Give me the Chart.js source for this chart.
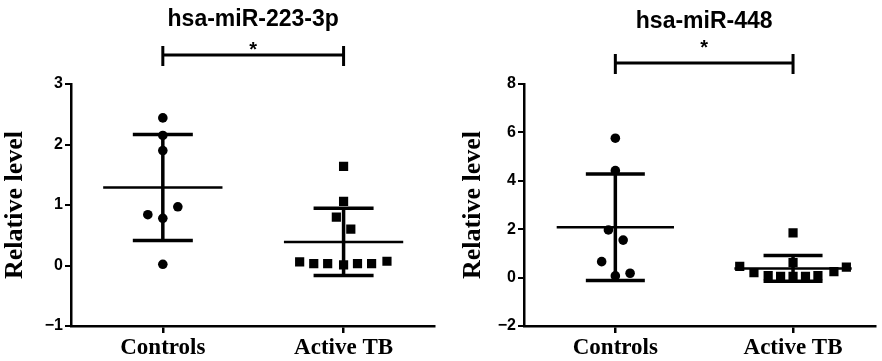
<!DOCTYPE html>
<html>
<head>
<meta charset="utf-8">
<script src="https://cdn.jsdelivr.net/npm/chart.js@4.4.1/dist/chart.umd.min.js"></script>
<style>
  html, body { margin: 0; padding: 0; background: #fff; }
  #wrap { position: relative; width: 882px; height: 361px; overflow: hidden; }
  .panel { position: absolute; top: 0; width: 441px; height: 361px; }
  canvas { display: block; }
</style>
</head>
<body>
<div id="wrap">
  <div class="panel" style="left:0"><canvas id="c1" width="441" height="361"></canvas></div>
  <div class="panel" style="left:441px"><canvas id="c2" width="441" height="361"></canvas></div>
</div>
<script>
// ---------------- DATA ----------------
const categories = ['Controls', 'Active TB'];
const titles = ['hsa-miR-223-3p', 'hsa-miR-448'];
const significance = ['*', '*'];

// hsa-miR-223-3p
const m223ControlsValues = [2.44, 2.15, 1.90, 0.97, 0.84, 0.78, 0.02];
const m223ControlsJitter = [0, 0, 0, 0.083, -0.083, 0, 0];
const m223ActiveValues = [1.64, 1.06, 0.80, 0.60, 0.06, 0.03, 0.03, 0.01, 0.03, 0.03, 0.07];
const m223ActiveJitter = [0, 0, -0.04, 0.04, -0.243, -0.165, -0.088, 0, 0.077, 0.155, 0.24];
const m223Mean = [1.29, 0.39];
const m223SD = [0.875, 0.555];
const m223Ticks = { min: -1, max: 3, step: 1 };

// hsa-miR-448
const m448ControlsValues = [5.76, 4.42, 1.97, 1.55, 0.66, 0.07, 0.18];
const m448ControlsJitter = [0, 0, -0.039, 0.044, -0.077, 0, 0.083];
const m448ActiveValues = [1.85, 0.62, 0.46, 0.20, 0.08, 0.05, 0.05, 0.05, 0.08, 0.25, 0.43];
const m448ActiveJitter = [0, 0, -0.30, -0.22, -0.14, -0.07, 0, 0.07, 0.14, 0.23, 0.30];
const m448Mean = [2.08, 0.38];
const m448SD = [2.2, 0.53];
const m448Ticks = { min: -2, max: 8, step: 2 };

// ---------------- STYLE ----------------
const SANS = 'Arial, "Liberation Sans", Helvetica, sans-serif';
const SERIF = '"Times New Roman", "Liberation Serif", Times, serif';
const MEAN_HALF = 0.33;
const CAP_HALF = 0.166;

function groupPoints(values, jitter, center) {
  return values.map((v, i) => ({ x: center + jitter[i], y: v }));
}

function summaryDatasets(mean, sd) {
  const ds = [];
  mean.forEach((m, i) => {
    const c = i + 1;
    const s = sd[i];
    const line = (data, w) => ({
      type: 'line', data, borderColor: '#000', borderWidth: w,
      pointRadius: 0, fill: false, tension: 0, borderCapStyle: 'butt'
    });
    ds.push(line([{ x: c - MEAN_HALF, y: m }, { x: c + MEAN_HALF, y: m }], 2.5));
    ds.push(line([{ x: c - CAP_HALF, y: m + s }, { x: c + CAP_HALF, y: m + s }], 3.5));
    ds.push(line([{ x: c - CAP_HALF, y: m - s }, { x: c + CAP_HALF, y: m - s }], 3.5));
    ds.push(line([{ x: c, y: m - s }, { x: c, y: m + s }], 3.5));
  });
  return ds;
}

const bracketPlugin = {
  id: 'bracket',
  afterDraw(chart, args, opts) {
    const { ctx } = chart;
    const xs = chart.scales.x;
    const x1 = xs.getPixelForValue(1), x2 = xs.getPixelForValue(2);
    const xm = xs.getPixelForValue(1.5);
    ctx.save();
    ctx.fillStyle = '#000';
    ctx.textAlign = 'center';
    ctx.textBaseline = 'middle';
    ctx.font = 'bold 23px ' + SANS;
    ctx.fillText(opts.title, xm, opts.titleY);
    ctx.font = 'bold 20px ' + SANS;
    ctx.fillText(opts.star, xm, opts.starY);
    ctx.strokeStyle = '#000';
    ctx.lineWidth = 3;
    ctx.beginPath();
    ctx.moveTo(x1, opts.barY); ctx.lineTo(x2, opts.barY);
    ctx.moveTo(x1, opts.barY - opts.endUp); ctx.lineTo(x1, opts.barY + opts.endDown);
    ctx.moveTo(x2, opts.barY - opts.endUp); ctx.lineTo(x2, opts.barY + opts.endDown);
    ctx.stroke();
    ctx.restore();
  }
};

function makeChart(id, cfg) {
  const datasets = [
    { type: 'scatter', data: groupPoints(cfg.ctrl, cfg.ctrlJ, 1), pointStyle: 'circle',
      pointRadius: 4.8, pointHoverRadius: 4.8, backgroundColor: '#000', borderColor: '#000', borderWidth: 0 },
    { type: 'scatter', data: groupPoints(cfg.act, cfg.actJ, 2), pointStyle: 'rect',
      pointRadius: 6.5, pointHoverRadius: 6.5, backgroundColor: '#000', borderColor: '#000', borderWidth: 0 },
    ...summaryDatasets(cfg.mean, cfg.sd)
  ];
  return new Chart(document.getElementById(id), {
    type: 'scatter',
    data: { datasets },
    options: {
      responsive: false,
      animation: false,
      devicePixelRatio: 1,
      layout: { padding: { left: 0, right: cfg.padRight, top: 84, bottom: 0 } },
      plugins: {
        legend: { display: false },
        tooltip: { enabled: false },
        bracket: cfg.bracket
      },
      scales: {
        x: {
          type: 'linear', min: cfg.xMin, max: cfg.xMax,
          afterBuildTicks: s => { s.ticks = [{ value: 1 }, { value: 2 }]; },
          afterFit: s => { s.height = 35; },
          ticks: {
            color: '#000', padding: 1, autoSkip: false, maxRotation: 0,
            font: { family: SERIF, size: 23, weight: 'bold' },
            callback: v => categories[v - 1]
          },
          grid: { display: true, drawOnChartArea: false, tickLength: 7, color: '#000', lineWidth: 2.5 },
          border: { display: true, color: '#000', width: 2.5 }
        },
        y: {
          type: 'linear', min: cfg.ticks.min, max: cfg.ticks.max,
          afterFit: s => { s.width = cfg.yWidth; },
          ticks: {
            stepSize: cfg.ticks.step, color: '#000', padding: 2,
            font: { family: SANS, size: 16, weight: 'bold' },
            callback: v => (v < 0 ? '\u2212' + Math.abs(v) : String(v))
          },
          grid: { display: true, drawOnChartArea: false, tickLength: 6, color: '#000', lineWidth: 2 },
          border: { display: true, color: '#000', width: 2.5 },
          title: {
            display: true, text: 'Relative level', color: '#000',
            font: { family: SERIF, size: 26, weight: 'bold' },
            padding: { top: cfg.yTitlePad, bottom: 0 }
          }
        }
      }
    },
    plugins: [bracketPlugin]
  });
}

makeChart('c1', {
  ctrl: m223ControlsValues, ctrlJ: m223ControlsJitter,
  act: m223ActiveValues, actJ: m223ActiveJitter,
  mean: m223Mean, sd: m223SD, ticks: m223Ticks,
  xMin: 0.492, xMax: 2.503, padRight: 6, yWidth: 71, yTitlePad: 0,
  bracket: { title: titles[0], titleY: 20, star: significance[0], starY: 50, barY: 55, endUp: 9, endDown: 11 }
});

makeChart('c2', {
  ctrl: m448ControlsValues, ctrlJ: m448ControlsJitter,
  act: m448ActiveValues, actJ: m448ActiveJitter,
  mean: m448Mean, sd: m448SD, ticks: m448Ticks,
  xMin: 0.486, xMax: 2.464, padRight: 0, yWidth: 83, yTitlePad: 17,
  bracket: { title: titles[1], titleY: 22, star: significance[1], starY: 48, barY: 63, endUp: 9, endDown: 11 }
});
</script>
</body>
</html>
